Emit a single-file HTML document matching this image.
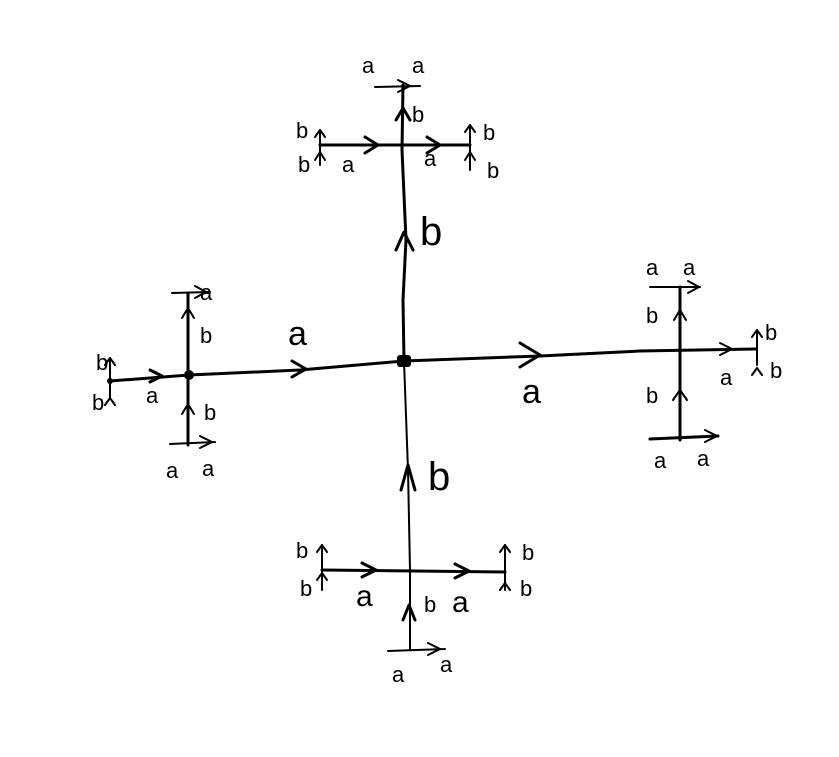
<!DOCTYPE html>
<html><head><meta charset="utf-8"><style>
html,body{margin:0;padding:0;background:#fff}
svg{display:block}
text{font-family:"Liberation Sans",sans-serif;fill:#000}
</style></head><body>
<svg width="839" height="757" viewBox="0 0 839 757" xmlns="http://www.w3.org/2000/svg">
<g stroke="#000" stroke-width="3" fill="none" stroke-linecap="round" stroke-linejoin="round">
<!-- main lines -->
<path d="M110 381 L189 375 L300 370 L404 361 L540 356 L640 351 L755 349"/>
<path d="M404 361 L403 300 L406 240 L402 150 L403 85"/>
<path d="M404 361 L408 470 L410 570 L410 650" stroke-width="2"/>
<!-- top crossbars -->
<path d="M320 145 L470 145"/>
<path d="M375 87 L420 86" stroke-width="2"/>
<path d="M320 130 L320 165" stroke-width="2"/>
<path d="M470 125 L470 170" stroke-width="2"/>
<!-- left -->
<path d="M188 293 L188 445"/>
<path d="M172 293 L210 292" stroke-width="2"/>
<path d="M170 444 L215 442" stroke-width="2"/>
<path d="M110 358 L110 398" stroke-width="2"/>
<!-- right -->
<path d="M680 287 L680 440"/>
<path d="M650 287 L700 287" stroke-width="2"/>
<path d="M650 439 L718 436"/>
<path d="M757 330 L757 365" stroke-width="2"/>
<!-- bottom -->
<path d="M322 570 L505 572"/>
<path d="M322 545 L322 590" stroke-width="2"/>
<path d="M505 545 L505 590" stroke-width="2"/>
<path d="M388 651 L445 649" stroke-width="2"/>
<!-- arrowheads (a: right chevrons) -->
<path d="M292 361 L306 369 L292 377"/>
<path d="M520 343 L540 355 L520 367"/>
<path d="M150 370 L162 376 L150 382"/>
<path d="M365 137 L378 145 L365 153"/>
<path d="M427 137 L440 145 L427 153"/>
<path d="M398 80 L410 86 L398 92" stroke-width="2"/>
<path d="M195 286 L206 292 L195 298" stroke-width="2"/>
<path d="M200 436 L212 442 L200 448" stroke-width="2"/>
<path d="M688 281 L699 287 L688 293" stroke-width="2"/>
<path d="M705 430 L717 436 L705 442" stroke-width="2"/>
<path d="M720 343 L732 349 L720 355" stroke-width="2"/>
<path d="M362 563 L376 570 L362 577"/>
<path d="M455 564 L469 571 L455 578"/>
<path d="M428 643 L440 649 L428 655" stroke-width="2"/>
<!-- b: up chevrons -->
<path d="M396 250 L404 232 L413 250"/>
<path d="M401 490 L408 465 L415 490"/>
<path d="M396 120 L403 108 L410 120"/>
<path d="M182 318 L188 308 L194 318" stroke-width="2"/>
<path d="M182 414 L188 404 L194 414" stroke-width="2"/>
<path d="M674 320 L680 310 L686 320" stroke-width="2"/>
<path d="M673 400 L680 390 L687 400" stroke-width="2"/>
<path d="M403 620 L409 605 L415 620"/>
<path d="M315 160 L320 152 L325 160" stroke-width="2"/>
<path d="M315 137 L320 130 L325 137" stroke-width="2"/>
<path d="M465 160 L470 152 L475 160" stroke-width="2"/>
<path d="M465 132 L470 125 L475 132" stroke-width="2"/>
<path d="M105 405 L110 398 L115 405" stroke-width="2"/>
<path d="M105 365 L110 358 L115 365" stroke-width="2"/>
<path d="M752 375 L757 368 L762 375" stroke-width="2"/>
<path d="M752 337 L757 330 L762 337" stroke-width="2"/>
<path d="M317 580 L322 573 L327 580" stroke-width="2"/>
<path d="M317 552 L322 545 L327 552" stroke-width="2"/>
<path d="M500 590 L505 583 L510 590" stroke-width="2"/>
<path d="M500 552 L505 545 L510 552" stroke-width="2"/>
</g>
<rect x="397" y="355" width="14" height="12" rx="3" fill="#000"/>
<circle cx="189" cy="375" r="5" fill="#000"/>
<circle cx="110" cy="381" r="3" fill="#000"/>
<g font-size="34">
<text x="288" y="345">a</text>
<text x="522" y="403">a</text>
<text x="420" y="245" font-size="40">b</text>
<text x="428" y="490" font-size="40">b</text>
</g>
<g font-size="22">
<text x="362" y="73">a</text><text x="412" y="73">a</text>
<text x="412" y="122">b</text>
<text x="296" y="138">b</text><text x="298" y="172">b</text>
<text x="342" y="172">a</text><text x="424" y="166">a</text>
<text x="483" y="140">b</text><text x="487" y="178">b</text>
<text x="200" y="300">a</text><text x="200" y="343">b</text>
<text x="96" y="370">b</text><text x="92" y="410">b</text>
<text x="146" y="403">a</text><text x="204" y="420">b</text>
<text x="166" y="478">a</text><text x="202" y="476">a</text>
<text x="646" y="275">a</text><text x="683" y="275">a</text>
<text x="646" y="323">b</text><text x="646" y="403">b</text>
<text x="765" y="340">b</text><text x="770" y="378">b</text>
<text x="720" y="385">a</text>
<text x="654" y="468">a</text><text x="697" y="466">a</text>
<text x="296" y="558">b</text><text x="300" y="596">b</text>
<text x="522" y="560">b</text><text x="520" y="596">b</text>
<text x="356" y="606" font-size="30">a</text><text x="452" y="612" font-size="30">a</text>
<text x="424" y="612">b</text>
<text x="392" y="682">a</text><text x="440" y="672">a</text>
</g>
</svg>
</body></html>
